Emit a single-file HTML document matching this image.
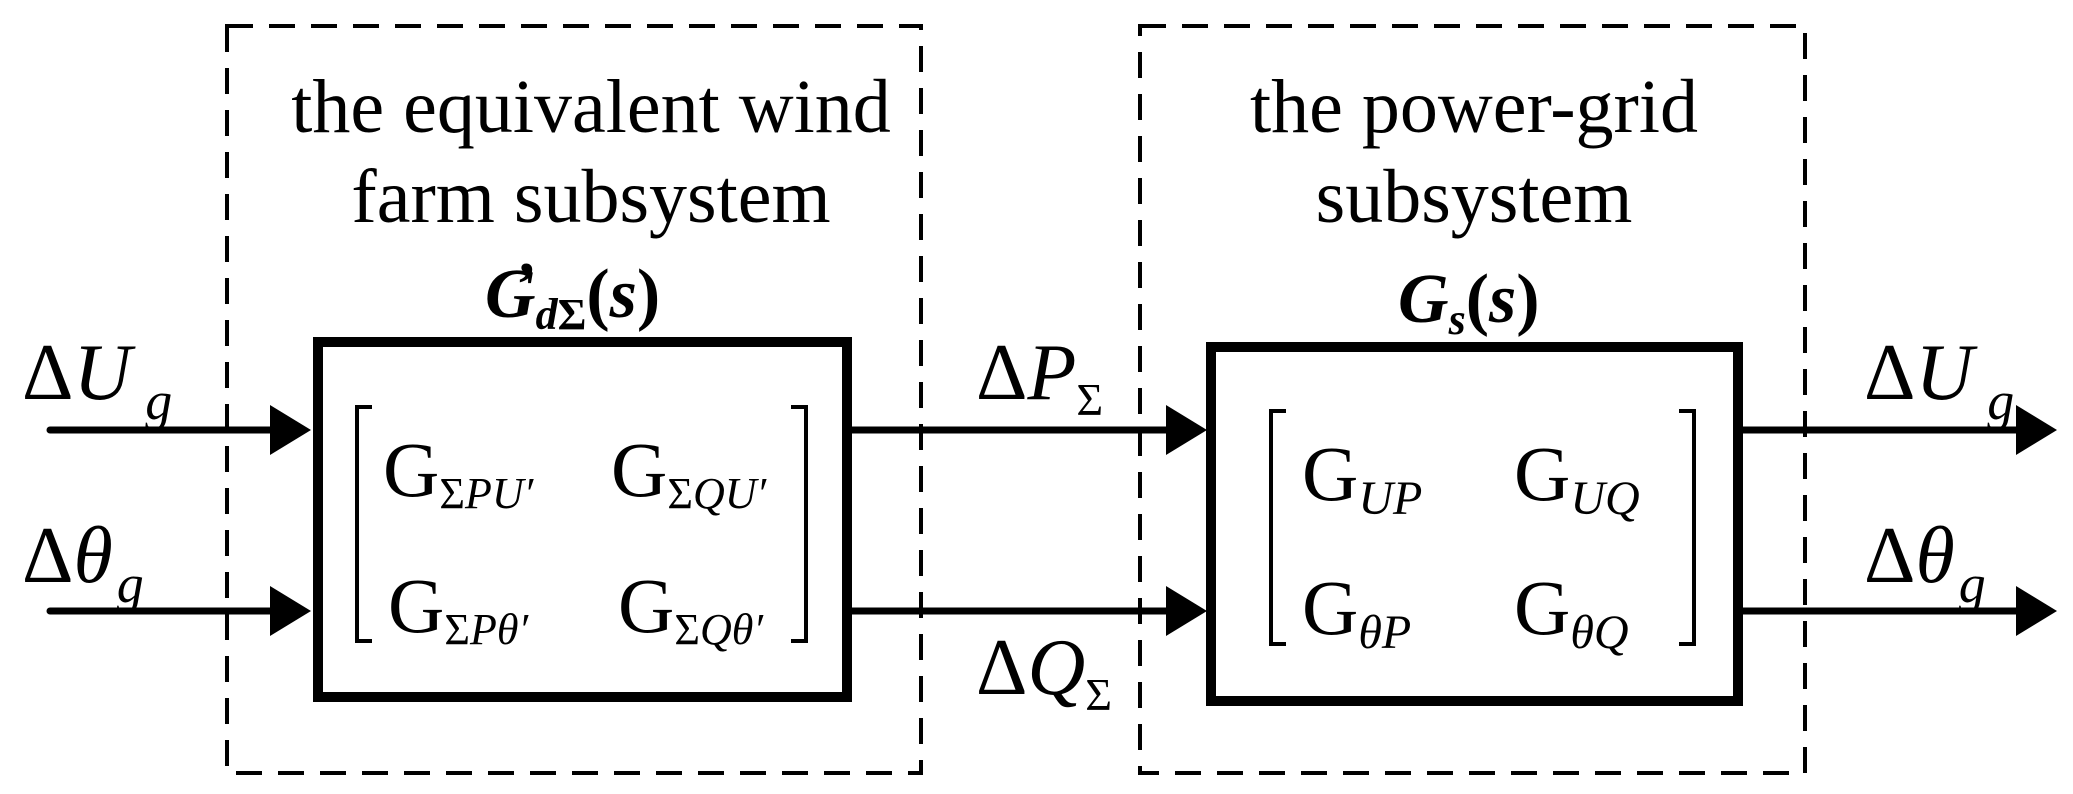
<!DOCTYPE html>
<html><head><meta charset="utf-8"><style>
html,body{margin:0;padding:0;background:#fff;}
svg{display:block;}
text{font-family:"Liberation Serif",serif;fill:#000;}
</style></head><body>
<svg width="2073" height="794" viewBox="0 0 2073 794" xmlns="http://www.w3.org/2000/svg">
<g fill="none" stroke="#000" stroke-width="4" stroke-dasharray="26 16">
<rect x="227" y="26" width="694" height="747"/>
<rect x="1140" y="26" width="665" height="747"/>
</g>
<g fill="none" stroke="#000" stroke-width="10">
<rect x="318" y="342" width="529" height="355"/>
<rect x="1211" y="347" width="527" height="354"/>
</g>
<g stroke="#000" stroke-width="7" stroke-linecap="round">
<line x1="50" y1="430" x2="280" y2="430"/>
<line x1="50" y1="611" x2="280" y2="611"/>
<line x1="852" y1="430" x2="1175" y2="430"/>
<line x1="852" y1="611" x2="1175" y2="611"/>
<line x1="1743" y1="430" x2="2025" y2="430"/>
<line x1="1743" y1="611" x2="2025" y2="611"/>
</g>
<g fill="#000">
<polygon points="270,405 311,430 270,455"/>
<polygon points="270,586 311,611 270,636"/>
<polygon points="1166,405 1207,430 1166,455"/>
<polygon points="1166,586 1207,611 1166,636"/>
<polygon points="2016,405 2057,430 2016,455"/>
<polygon points="2016,586 2057,611 2016,636"/>
</g>
<g fill="none" stroke="#000" stroke-width="4">
<polyline points="372,407 357,407 357,641 372,641"/>
<polyline points="791,407 806,407 806,641 791,641"/>
<polyline points="1286,411 1271,411 1271,644 1286,644"/>
<polyline points="1679,411 1694,411 1694,644 1679,644"/>
</g>
<g font-size="76" text-anchor="middle">
<text x="591" y="132">the equivalent wind</text>
<text x="591" y="222">farm subsystem</text>
<text x="1474" y="132">the power-grid</text>
<text x="1474" y="222">subsystem</text>
</g>
<text x="485" y="317" font-size="70" font-weight="bold" font-style="italic">G<tspan font-size="44" dy="12">d</tspan><tspan font-size="44" font-style="normal">Σ</tspan><tspan dy="-12" font-style="normal">(</tspan>s<tspan font-style="normal">)</tspan></text>
<text x="516" y="305" font-size="62" font-weight="bold">’</text>
<text x="1398" y="322" font-size="70" font-weight="bold" font-style="italic">G<tspan font-size="44" dy="12">s</tspan><tspan dy="-12" font-style="normal">(</tspan>s<tspan font-style="normal">)</tspan></text>
<g font-size="80">
<text x="22" y="399">Δ<tspan font-style="italic">U</tspan><tspan font-size="54" font-style="italic" dx="14" dy="20">g</tspan></text>
<text x="22" y="582">Δ<tspan font-style="italic">θ</tspan><tspan font-size="54" font-style="italic" dx="4" dy="20">g</tspan></text>
<text x="976" y="399">Δ<tspan font-style="italic">P</tspan><tspan font-size="46" dy="16">Σ</tspan></text>
<text x="976" y="694">Δ<tspan font-style="italic">Q</tspan><tspan font-size="46" dy="16">Σ</tspan></text>
<text x="1864" y="399">Δ<tspan font-style="italic">U</tspan><tspan font-size="54" font-style="italic" dx="14" dy="20">g</tspan></text>
<text x="1864" y="582">Δ<tspan font-style="italic">θ</tspan><tspan font-size="54" font-style="italic" dx="4" dy="20">g</tspan></text>
</g>
<g font-size="78">
<text x="383" y="496">G<tspan font-size="44" dy="12">Σ</tspan><tspan font-size="44" font-style="italic">PU′</tspan></text>
<text x="611" y="496">G<tspan font-size="44" dy="12">Σ</tspan><tspan font-size="44" font-style="italic">QU′</tspan></text>
<text x="388" y="632">G<tspan font-size="44" dy="12">Σ</tspan><tspan font-size="44" font-style="italic">Pθ′</tspan></text>
<text x="618" y="632">G<tspan font-size="44" dy="12">Σ</tspan><tspan font-size="44" font-style="italic">Qθ′</tspan></text>
<text x="1302" y="500">G<tspan font-size="48" font-style="italic" dy="14">UP</tspan></text>
<text x="1514" y="500">G<tspan font-size="48" font-style="italic" dy="14">UQ</tspan></text>
<text x="1302" y="634">G<tspan font-size="48" font-style="italic" dy="14">θP</tspan></text>
<text x="1514" y="634">G<tspan font-size="48" font-style="italic" dy="14">θQ</tspan></text>
</g>
</svg>
</body></html>
